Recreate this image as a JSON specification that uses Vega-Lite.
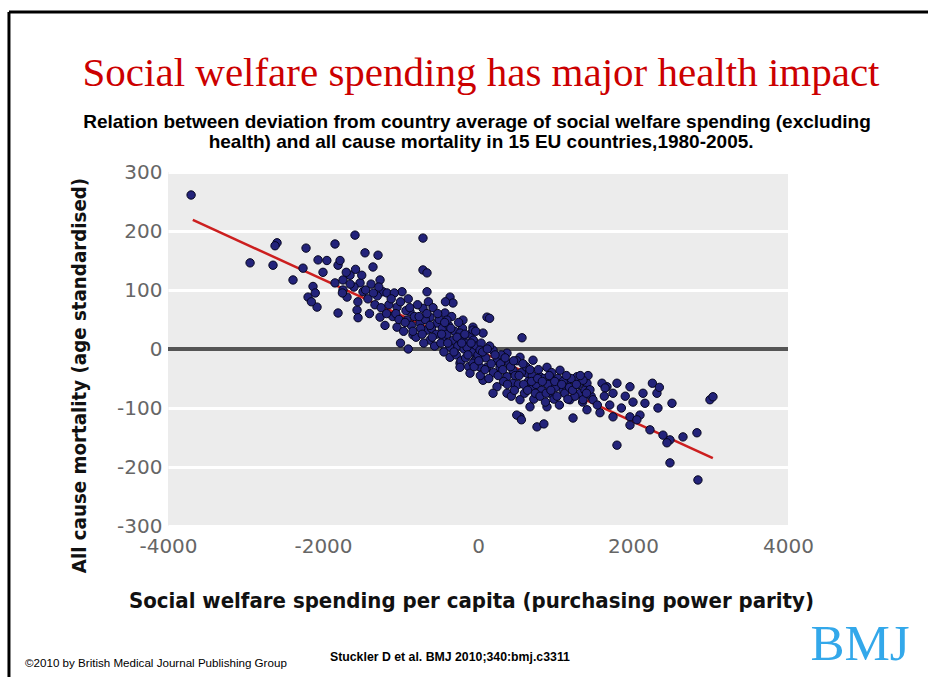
{
  "$schema": "https://vega.github.io/schema/vega-lite/v6.json",
  "width": 620,
  "height": 354,
  "autosize": {"type": "none"},
  "padding": {"left": 168, "top": 172, "right": 140, "bottom": 151},
  "background": "white",
  "config": {
    "view": {"fill": "#ececec", "stroke": null},
    "axis": {"labelFont": "DejaVu Sans", "labelFontSize": 20, "labelColor": "#666666", "titleFont": "DejaVu Sans Condensed", "titleFontWeight": "bold", "titleColor": "#111111", "domain": false, "ticks": false, "labelExpr": "toString(datum.value)"}
  },
  "datasets": {
    "pts": [
      {"spending": -3702, "mortality": 261}, {"spending": -2593, "mortality": 180}, {"spending": -2619, "mortality": 175}, {"spending": -2941, "mortality": 146}, {"spending": -2645, "mortality": 142}, {"spending": -2219, "mortality": 171}, {"spending": -1845, "mortality": 178}, {"spending": -2064, "mortality": 151}, {"spending": -2258, "mortality": 137}, {"spending": -2387, "mortality": 117}, {"spending": -1806, "mortality": 142}, {"spending": -2129, "mortality": 106}, {"spending": -2193, "mortality": 88}, {"spending": -2077, "mortality": 71}, {"spending": -1845, "mortality": 112}, {"spending": -1742, "mortality": 117}, {"spending": -1806, "mortality": 61}, {"spending": -1690, "mortality": 88}, {"spending": -2100, "mortality": 95}, {"spending": -2150, "mortality": 80}, {"spending": -2000, "mortality": 130}, {"spending": -1950, "mortality": 150},
      {"spending": -1587, "mortality": 193}, {"spending": -710, "mortality": 188}, {"spending": -1458, "mortality": 163}, {"spending": -1290, "mortality": 159}, {"spending": -1780, "mortality": 150}, {"spending": -1355, "mortality": 139}, {"spending": -710, "mortality": 134}, {"spending": -658, "mortality": 129}, {"spending": -1651, "mortality": 125}, {"spending": -1522, "mortality": 112}, {"spending": -1742, "mortality": 100}, {"spending": -1484, "mortality": 97}, {"spending": -1226, "mortality": 97}, {"spending": -980, "mortality": 97}, {"spending": -658, "mortality": 97}, {"spending": -361, "mortality": 88}, {"spending": -323, "mortality": 78}, {"spending": -1561, "mortality": 66}, {"spending": -1548, "mortality": 53}, {"spending": -1264, "mortality": 54}, {"spending": -1045, "mortality": 71}, {"spending": -877, "mortality": 63}, {"spending": -710, "mortality": 69}, {"spending": -619, "mortality": 54}, {"spending": -426, "mortality": 61}, {"spending": -194, "mortality": 49}, {"spending": -65, "mortality": 37}, {"spending": -1045, "mortality": 37}, {"spending": -839, "mortality": 24}, {"spending": -658, "mortality": 32}, {"spending": -619, "mortality": 15}, {"spending": -452, "mortality": 20}, {"spending": -361, "mortality": 3}, {"spending": -194, "mortality": 20}, {"spending": -103, "mortality": 3}, {"spending": -13, "mortality": -14}, {"spending": -361, "mortality": -14}, {"spending": -232, "mortality": -24}, {"spending": -1264, "mortality": 117}, {"spending": -1174, "mortality": 95}, {"spending": -916, "mortality": 49}, {"spending": -748, "mortality": 44}, {"spending": -529, "mortality": 44},
      {"spending": -1700, "mortality": 130}, {"spending": -1600, "mortality": 105}, {"spending": -1550, "mortality": 80}, {"spending": -1500, "mortality": 125}, {"spending": -1420, "mortality": 85}, {"spending": -1400, "mortality": 60}, {"spending": -1380, "mortality": 110}, {"spending": -1330, "mortality": 75}, {"spending": -1300, "mortality": 90}, {"spending": -1250, "mortality": 70}, {"spending": -1200, "mortality": 40}, {"spending": -1150, "mortality": 75}, {"spending": -1100, "mortality": 55}, {"spending": -1080, "mortality": 95}, {"spending": -1000, "mortality": 80}, {"spending": -960, "mortality": 30}, {"spending": -930, "mortality": 65}, {"spending": -900, "mortality": 85}, {"spending": -860, "mortality": 40}, {"spending": -820, "mortality": 55}, {"spending": -800, "mortality": 20}, {"spending": -780, "mortality": 75}, {"spending": -740, "mortality": 35}, {"spending": -700, "mortality": 10}, {"spending": -680, "mortality": 50}, {"spending": -640, "mortality": 80}, {"spending": -600, "mortality": 35}, {"spending": -580, "mortality": 70}, {"spending": -560, "mortality": 5}, {"spending": -540, "mortality": 25}, {"spending": -500, "mortality": 50}, {"spending": -480, "mortality": 10}, {"spending": -460, "mortality": 35}, {"spending": -440, "mortality": -5}, {"spending": -420, "mortality": 80}, {"spending": -400, "mortality": 25}, {"spending": -380, "mortality": 40}, {"spending": -340, "mortality": 55}, {"spending": -320, "mortality": 15}, {"spending": -300, "mortality": 30}, {"spending": -280, "mortality": -10}, {"spending": -260, "mortality": 5}, {"spending": -240, "mortality": 20}, {"spending": -220, "mortality": -20}, {"spending": -200, "mortality": 35}, {"spending": -180, "mortality": 0}, {"spending": -160, "mortality": -15}, {"spending": -140, "mortality": 10}, {"spending": -120, "mortality": -30}, {"spending": -100, "mortality": 25}, {"spending": -80, "mortality": -5}, {"spending": -60, "mortality": 15}, {"spending": -40, "mortality": -20}, {"spending": -20, "mortality": 5}, {"spending": 0, "mortality": -10}, {"spending": 20, "mortality": -30}, {"spending": 40, "mortality": 10}, {"spending": -1000, "mortality": 10}, {"spending": -900, "mortality": 0},
      {"spending": 116, "mortality": 54}, {"spending": 568, "mortality": 19}, {"spending": -400, "mortality": 49}, {"spending": -232, "mortality": 27}, {"spending": -65, "mortality": 32}, {"spending": 65, "mortality": 27}, {"spending": -142, "mortality": 3}, {"spending": 26, "mortality": -2}, {"spending": 194, "mortality": -2}, {"spending": 374, "mortality": -7}, {"spending": 542, "mortality": -14}, {"spending": 710, "mortality": -19}, {"spending": 890, "mortality": -31}, {"spending": 1058, "mortality": -36}, {"spending": 1277, "mortality": -47}, {"spending": 1406, "mortality": -58}, {"spending": -232, "mortality": -31}, {"spending": -65, "mortality": -24}, {"spending": 116, "mortality": -31}, {"spending": 284, "mortality": -31}, {"spending": 452, "mortality": -36}, {"spending": 632, "mortality": -41}, {"spending": 800, "mortality": -47}, {"spending": 968, "mortality": -53}, {"spending": 1148, "mortality": -58}, {"spending": 1316, "mortality": -75}, {"spending": 65, "mortality": -53}, {"spending": 245, "mortality": -64}, {"spending": 374, "mortality": -75}, {"spending": 542, "mortality": -86}, {"spending": 671, "mortality": -98}, {"spending": 542, "mortality": -115}, {"spending": 761, "mortality": -132}, {"spending": 890, "mortality": -98}, {"spending": 1226, "mortality": -117}, {"spending": 194, "mortality": -75}, {"spending": 452, "mortality": -58}, {"spending": 710, "mortality": -64}, {"spending": 929, "mortality": -75}, {"spending": 1097, "mortality": -69}, {"spending": 1187, "mortality": -86}, {"spending": -103, "mortality": -41}, {"spending": 374, "mortality": -47},
      {"spending": 100, "mortality": -15}, {"spending": 150, "mortality": 5}, {"spending": 200, "mortality": -40}, {"spending": 250, "mortality": -20}, {"spending": 300, "mortality": -10}, {"spending": 330, "mortality": -55}, {"spending": 400, "mortality": -25}, {"spending": 430, "mortality": -80}, {"spending": 480, "mortality": -45}, {"spending": 500, "mortality": -20}, {"spending": 520, "mortality": -60}, {"spending": 560, "mortality": -40}, {"spending": 600, "mortality": -75}, {"spending": 620, "mortality": -30}, {"spending": 650, "mortality": -55}, {"spending": 700, "mortality": -45}, {"spending": 720, "mortality": -85}, {"spending": 750, "mortality": -60}, {"spending": 780, "mortality": -35}, {"spending": 820, "mortality": -70}, {"spending": 850, "mortality": -50}, {"spending": 870, "mortality": -90}, {"spending": 900, "mortality": -60}, {"spending": 950, "mortality": -40}, {"spending": 980, "mortality": -85}, {"spending": 1000, "mortality": -65}, {"spending": 1030, "mortality": -50}, {"spending": 1050, "mortality": -95}, {"spending": 1100, "mortality": -55}, {"spending": 1120, "mortality": -75}, {"spending": 1180, "mortality": -65}, {"spending": 1200, "mortality": -50}, {"spending": 1250, "mortality": -80}, {"spending": 1300, "mortality": -60}, {"spending": 1350, "mortality": -90}, {"spending": 1380, "mortality": -70}, {"spending": 1420, "mortality": -45}, {"spending": 1460, "mortality": -80}, {"spending": 150, "mortality": 52}, {"spending": 500, "mortality": -112}, {"spending": 560, "mortality": -120}, {"spending": 850, "mortality": -127},
      {"spending": 1664, "mortality": -64}, {"spending": 1793, "mortality": -58}, {"spending": 1961, "mortality": -64}, {"spending": 1742, "mortality": -75}, {"spending": 2129, "mortality": -75}, {"spending": 2309, "mortality": -75}, {"spending": 2503, "mortality": -92}, {"spending": 2993, "mortality": -86}, {"spending": 3032, "mortality": -81}, {"spending": 2322, "mortality": -100}, {"spending": 2154, "mortality": -92}, {"spending": 1355, "mortality": -86}, {"spending": 1484, "mortality": -86}, {"spending": 1406, "mortality": -103}, {"spending": 1574, "mortality": -108}, {"spending": 1742, "mortality": -115}, {"spending": 1961, "mortality": -115}, {"spending": 1961, "mortality": -129}, {"spending": 2090, "mortality": -112}, {"spending": 2219, "mortality": -137}, {"spending": 2387, "mortality": -146}, {"spending": 2477, "mortality": -154}, {"spending": 2645, "mortality": -149}, {"spending": 2825, "mortality": -142}, {"spending": 2438, "mortality": -159}, {"spending": 1793, "mortality": -163}, {"spending": 2477, "mortality": -193}, {"spending": 2838, "mortality": -222}, {"spending": 1355, "mortality": -53}, {"spending": 1445, "mortality": -69},
      {"spending": 1600, "mortality": -58}, {"spending": 1640, "mortality": -66}, {"spending": 1540, "mortality": -95}, {"spending": 1700, "mortality": -95}, {"spending": 1850, "mortality": -100}, {"spending": 1900, "mortality": -80}, {"spending": 2000, "mortality": -90}, {"spending": 2050, "mortality": -120}, {"spending": 1630, "mortality": -80}, {"spending": 2250, "mortality": -58}, {"spending": 2340, "mortality": -65},
      {"spending": -1750, "mortality": 95}, {"spending": -1650, "mortality": 110}, {"spending": -1580, "mortality": 135}, {"spending": -1450, "mortality": 100}, {"spending": -1350, "mortality": 95}, {"spending": -1280, "mortality": 105}, {"spending": -1180, "mortality": 60}, {"spending": -1120, "mortality": 85}, {"spending": -1060, "mortality": 60}, {"spending": -1020, "mortality": 50}, {"spending": -940, "mortality": 45}, {"spending": -880, "mortality": 70}, {"spending": -840, "mortality": 30}, {"spending": -760, "mortality": 55}, {"spending": -720, "mortality": 25}, {"spending": -660, "mortality": 60}, {"spending": -620, "mortality": 40}, {"spending": -590, "mortality": 20}, {"spending": -520, "mortality": 60}, {"spending": -470, "mortality": 25}, {"spending": -430, "mortality": 45}, {"spending": -390, "mortality": 10}, {"spending": -350, "mortality": 35}, {"spending": -310, "mortality": -5}, {"spending": -270, "mortality": 20}, {"spending": -250, "mortality": 45}, {"spending": -210, "mortality": 10}, {"spending": -170, "mortality": 25}, {"spending": -130, "mortality": -10}, {"spending": -90, "mortality": 10}, {"spending": -50, "mortality": -30}, {"spending": -30, "mortality": 30}, {"spending": 10, "mortality": -20}, {"spending": 30, "mortality": -45}, {"spending": 60, "mortality": -5}, {"spending": 90, "mortality": -35}, {"spending": 120, "mortality": 0}, {"spending": 140, "mortality": -50}, {"spending": 170, "mortality": -25}, {"spending": 220, "mortality": -10}, {"spending": 260, "mortality": -45}, {"spending": 290, "mortality": -25}, {"spending": 320, "mortality": -35}, {"spending": 350, "mortality": -15}, {"spending": 380, "mortality": -60}, {"spending": 420, "mortality": -30}, {"spending": 460, "mortality": -20}, {"spending": 470, "mortality": -70}, {"spending": 530, "mortality": -45}, {"spending": 580, "mortality": -25}, {"spending": 590, "mortality": -60}, {"spending": 640, "mortality": -70}, {"spending": 670, "mortality": -35}, {"spending": 690, "mortality": -55}, {"spending": 740, "mortality": -75}, {"spending": 770, "mortality": -50}, {"spending": 800, "mortality": -80}, {"spending": 830, "mortality": -55}, {"spending": 880, "mortality": -75}, {"spending": 920, "mortality": -45}, {"spending": 940, "mortality": -70}, {"spending": 990, "mortality": -55}, {"spending": 1020, "mortality": -80}, {"spending": 1080, "mortality": -60}, {"spending": 1140, "mortality": -45}, {"spending": 1160, "mortality": -85}, {"spending": 1220, "mortality": -70}, {"spending": 1270, "mortality": -60}, {"spending": 1320, "mortality": -45}, {"spending": 1400, "mortality": -75}
    ],
    "fit": [
      {"spending": -3680, "mortality": 219},
      {"spending": 3030, "mortality": -185}
    ]
  },
  "layer": [
    {
      "data": {"values": [{"mortality": 0}]},
      "mark": {"type": "rule", "color": "#555555", "strokeWidth": 4},
      "encoding": {
        "y": {
          "field": "mortality", "type": "quantitative",
          "scale": {"domain": [-300, 300], "nice": false, "zero": false},
          "axis": {"values": [-300, -200, -100, 0, 100, 200, 300], "grid": true, "gridColor": "#ffffff", "gridWidth": 3, "gridOpacity": 1, "labelPadding": 6, "title": "All cause mortality (age standardised)", "titleFontSize": 20.3, "titlePadding": 27, "titleY": 203}
        }
      }
    },
    {
      "data": {"name": "fit"},
      "mark": {"type": "line", "color": "#cc1f1f", "strokeWidth": 2.5},
      "encoding": {
        "x": {
          "field": "spending", "type": "quantitative",
          "scale": {"domain": [-4000, 4000], "nice": false, "zero": false},
          "axis": {"values": [-4000, -2000, 0, 2000, 4000], "grid": false, "labelFlush": false, "labelPadding": 10, "title": "Social welfare spending per capita (purchasing power parity)", "titleFontSize": 22, "titlePadding": 34, "titleX": 303}
        },
        "y": {"field": "mortality", "type": "quantitative"}
      }
    },
    {
      "data": {"name": "pts"},
      "mark": {"type": "circle", "size": 70, "fill": "#23237a", "stroke": "#05051f", "strokeWidth": 1, "fillOpacity": 1, "opacity": 1},
      "encoding": {
        "x": {"field": "spending", "type": "quantitative"},
        "y": {"field": "mortality", "type": "quantitative"}
      }
    },
    {
      "data": {"values": [{"edge": "top"}]},
      "mark": {"type": "rule", "color": "#000000", "strokeWidth": 3},
      "encoding": {
        "x": {"datum": -6052}, "x2": {"datum": 6000},
        "y": {"datum": 571}
      }
    },
    {
      "data": {"values": [{"edge": "left"}]},
      "mark": {"type": "rule", "color": "#000000", "strokeWidth": 3},
      "encoding": {
        "x": {"datum": -6052},
        "y": {"datum": 571}, "y2": {"datum": -600}
      }
    },
    {
      "data": {"values": [{"label": "Social welfare spending has major health impact"}]},
      "mark": {"type": "text", "align": "center", "baseline": "alphabetic", "font": "Liberation Serif", "fontSize": 41, "color": "#cc0000"},
      "encoding": {
        "x": {"datum": 39}, "y": {"datum": 446},
        "text": {"field": "label"}
      }
    },
    {
      "data": {"values": [{"label": "Relation between deviation from country average of social welfare spending (excluding"}]},
      "mark": {"type": "text", "align": "center", "baseline": "alphabetic", "font": "Liberation Sans", "fontSize": 19, "fontWeight": "bold", "color": "#000000"},
      "encoding": {
        "x": {"datum": -13}, "y": {"datum": 375},
        "text": {"field": "label"}
      }
    },
    {
      "data": {"values": [{"label": "health) and all cause mortality in 15 EU countries,1980-2005."}]},
      "mark": {"type": "text", "align": "center", "baseline": "alphabetic", "font": "Liberation Sans", "fontSize": 19, "fontWeight": "bold", "color": "#000000"},
      "encoding": {
        "x": {"datum": 40}, "y": {"datum": 341},
        "text": {"field": "label"}
      }
    },
    {
      "data": {"values": [{"label": "©2010 by British Medical Journal Publishing Group"}]},
      "mark": {"type": "text", "align": "left", "baseline": "alphabetic", "font": "Liberation Sans", "fontSize": 11.6, "color": "#000000"},
      "encoding": {
        "x": {"datum": -5845}, "y": {"datum": -539},
        "text": {"field": "label"}
      }
    },
    {
      "data": {"values": [{"label": "Stuckler D et al. BMJ 2010;340:bmj.c3311"}]},
      "mark": {"type": "text", "align": "left", "baseline": "alphabetic", "font": "Liberation Sans", "fontSize": 12.3, "fontWeight": "bold", "color": "#000000"},
      "encoding": {
        "x": {"datum": -1910}, "y": {"datum": -529},
        "text": {"field": "label"}
      }
    },
    {
      "data": {"values": [{"label": "BMJ"}]},
      "mark": {"type": "text", "align": "center", "baseline": "alphabetic", "font": "Liberation Serif", "fontSize": 51, "color": "#33a8ea"},
      "encoding": {
        "x": {"datum": 4929}, "y": {"datum": -527},
        "text": {"field": "label"}
      }
    }
  ]
}
